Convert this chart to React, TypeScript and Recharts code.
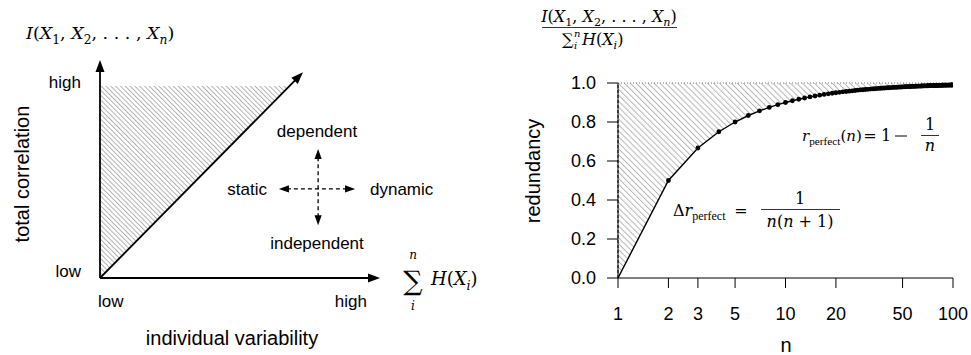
import React from 'react';
import { ComposedChart, Area, Line, XAxis, YAxis, ReferenceLine } from 'recharts';

const W = 971;
const H = 355;

// ---- Left panel: conceptual plane (arbitrary units) ----
const planeMax = { x: 10, y: 8 };
const horizontalAxis = [{ x: 0, y: 0 }, { x: 10, y: 0 }];
const verticalAxis = [{ x: 0, y: 0 }, { x: 0, y: 8 }];
const diagonal = [{ x: 0, y: 0 }, { x: 7.25, y: 7.55 }];
// lower edge of the shaded wedge (runs along the diagonal); its upper edge is wedgeTop
const wedgeEdge = [{ x: 0, y: 0 }, { x: 6.77, y: 7.05 }];
const wedgeTop = 7.05;
const staticDynamic = [{ x: 6.39, y: 3.27 }, { x: 9.11, y: 3.27 }];
const independentDependent = [{ x: 7.79, y: 1.94 }, { x: 7.79, y: 4.73 }];

// ---- Right panel: redundancy of a perfectly redundant system ----
const nValues = [
  1, 2, 3, 4, 5, 6, 7, 8, 9, 10, 11, 12, 13, 14, 15, 16, 17, 18, 19, 20,
  21, 22, 23, 24, 25, 26, 27, 28, 29, 30, 31, 32, 33, 34, 35, 36, 37, 38, 39, 40,
  41, 42, 43, 44, 45, 46, 47, 48, 49, 50, 51, 52, 53, 54, 55, 56, 57, 58, 59, 60,
  61, 62, 63, 64, 65, 66, 67, 68, 69, 70, 71, 72, 73, 74, 75, 76, 77, 78, 79, 80,
  81, 82, 83, 84, 85, 86, 87, 88, 89, 90, 91, 92, 93, 94, 95, 96, 97, 98, 99, 100,
];
const redundancy = [
  0, 0.5, 0.6667, 0.75, 0.8, 0.8333, 0.8571, 0.875, 0.8889, 0.9,
  0.9091, 0.9167, 0.9231, 0.9286, 0.9333, 0.9375, 0.9412, 0.9444, 0.9474, 0.95,
  0.9524, 0.9545, 0.9565, 0.9583, 0.96, 0.9615, 0.963, 0.9643, 0.9655, 0.9667,
  0.9677, 0.9688, 0.9697, 0.9706, 0.9714, 0.9722, 0.973, 0.9737, 0.9744, 0.975,
  0.9756, 0.9762, 0.9767, 0.9773, 0.9778, 0.9783, 0.9787, 0.9792, 0.9796, 0.98,
  0.9804, 0.9808, 0.9811, 0.9815, 0.9818, 0.9821, 0.9825, 0.9828, 0.9831, 0.9833,
  0.9836, 0.9839, 0.9841, 0.9844, 0.9846, 0.9848, 0.9851, 0.9853, 0.9855, 0.9857,
  0.9859, 0.9861, 0.9863, 0.9865, 0.9867, 0.9868, 0.987, 0.9872, 0.9873, 0.9875,
  0.9877, 0.9878, 0.988, 0.9881, 0.9882, 0.9884, 0.9885, 0.9886, 0.9888, 0.9889,
  0.989, 0.9891, 0.9892, 0.9894, 0.9895, 0.9896, 0.9897, 0.9898, 0.9899, 0.99,
];
const nTicks = [1, 2, 3, 5, 10, 20, 50, 100];
const redundancyTicks = [0, 0.2, 0.4, 0.6, 0.8, 1.0];

const curve = nValues.map((n, i) => ({ n, r: redundancy[i] }));

const SANS = "'Liberation Sans', Arial, Helvetica, sans-serif";
const SERIF = "'DejaVu Serif', 'Liberation Serif', serif";
const SERIF_NARROW = "'Liberation Serif', 'DejaVu Serif', serif";

type Part = [string, 'i' | 'r' | 'subr' | 'subi' | 'subw'];

function MathText({ x, y, size, anchor = 'start', parts }: { x: number; y: number; size: number; anchor?: 'start' | 'middle' | 'end'; parts: Part[] }) {
  let shift = 0;
  return (
    <text x={x} y={y} textAnchor={anchor} fontFamily={SERIF} fontSize={size} fill="#000">
      {parts.map(([t, kind], k) => {
        const sub = kind.startsWith('sub');
        const target = sub ? size * 0.26 : 0;
        const dy = target - shift;
        shift = target;
        return (
          <tspan
            key={k}
            dy={dy}
            fontStyle={kind.endsWith('i') ? 'italic' : 'normal'}
            fontFamily={kind === 'subw' ? SERIF_NARROW : undefined}
            fontSize={sub ? size * (kind === 'subw' ? 0.75 : 0.7) : size}
          >
            {t}
          </tspan>
        );
      })}
    </text>
  );
}

// Line with filled arrow head(s), used as a ReferenceLine shape
function arrow(head: number, half: number, width: number, dash?: string, both = false) {
  return (p: any) => {
    const { x1, y1, x2, y2 } = p;
    const dx = x2 - x1;
    const dy = y2 - y1;
    const len = Math.hypot(dx, dy) || 1;
    const ux = dx / len;
    const uy = dy / len;
    const tri = (tx: number, ty: number, sx: number, sy: number) => {
      const bx = tx - sx * head;
      const by = ty - sy * head;
      const px = -sy * half;
      const py = sx * half;
      return `${tx},${ty} ${bx + px},${by + py} ${bx - px},${by - py}`;
    };
    const sx0 = both ? x1 + ux * head * 0.8 : x1;
    const sy0 = both ? y1 + uy * head * 0.8 : y1;
    return (
      <g>
        <line x1={sx0} y1={sy0} x2={x2 - ux * head * 0.8} y2={y2 - uy * head * 0.8} stroke="#000" strokeWidth={width} strokeDasharray={dash} />
        <polygon points={tri(x2, y2, ux, uy)} fill="#000" />
        {both && <polygon points={tri(x1, y1, -ux, -uy)} fill="#000" />}
      </g>
    );
  };
}

const thinArrow = arrow(12, 4.5, 1.8);
const dashedArrow = arrow(10, 3.6, 1.3, '4 3', true);

function LeftPanel() {
  return (
    <ComposedChart width={W} height={H} data={wedgeEdge} margin={{ top: 60, left: 100, right: W - 380, bottom: 77 }} style={{ position: 'absolute', left: 0, top: 0 }}>
      <defs>
        <pattern id="hatch-left" patternUnits="userSpaceOnUse" width="3.4" height="3.4" patternTransform="rotate(-45)">
          <line x1="0.5" y1="0" x2="0.5" y2="3.4" stroke="#a0a0a0" strokeWidth="0.8" />
        </pattern>
      </defs>
      <XAxis dataKey="x" type="number" domain={[0, planeMax.x]} hide allowDataOverflow />
      <YAxis type="number" domain={[0, planeMax.y]} hide allowDataOverflow />
      <Area dataKey="y" type="linear" baseValue={wedgeTop} fill="url(#hatch-left)" fillOpacity={1} stroke="none" isAnimationActive={false} />
      <ReferenceLine segment={horizontalAxis} shape={thinArrow} />
      <ReferenceLine segment={verticalAxis} shape={thinArrow} />
      <ReferenceLine segment={diagonal} shape={thinArrow} />
      <ReferenceLine segment={staticDynamic} shape={dashedArrow} />
      <ReferenceLine segment={independentDependent} shape={dashedArrow} />

      <g fontFamily={SANS} fill="#000">
        <text x={81} y={88} fontSize={17} textAnchor="end">high</text>
        <text x={81} y={277} fontSize={17} textAnchor="end">low</text>
        <text x={98} y={307} fontSize={17}>low</text>
        <text x={367} y={307} fontSize={17} textAnchor="end">high</text>
        <text x={232} y={345} fontSize={20} textAnchor="middle">individual variability</text>
        <text x={29} y={174} fontSize={20} textAnchor="middle" transform="rotate(-90 29 174)">total correlation</text>
        <text x={317} y={137} fontSize={17} textAnchor="middle">dependent</text>
        <text x={317} y={249} fontSize={17} textAnchor="middle">independent</text>
        <text x={267} y={195} fontSize={17} textAnchor="end">static</text>
        <text x={370} y={195} fontSize={17}>dynamic</text>
      </g>

      <MathText x={26} y={39} size={17.5} parts={[['I', 'i'], ['(', 'r'], ['X', 'i'], ['1', 'subr'], [', ', 'r'], ['X', 'i'], ['2', 'subr'], [', . . . , ', 'r'], ['X', 'i'], ['n', 'subi'], [')', 'r']]} />

      <text x={413} y={290} fontFamily={SERIF} fontSize={27} textAnchor="middle">∑</text>
      <text x={413} y={259} fontFamily={SERIF} fontSize={12} fontStyle="italic" textAnchor="middle">n</text>
      <text x={413} y={310} fontFamily={SERIF} fontSize={12} fontStyle="italic" textAnchor="middle">i</text>
      <MathText x={431} y={285} size={18} parts={[['H', 'i'], ['(', 'r'], ['X', 'i'], ['i', 'subi'], [')', 'r']]} />
    </ComposedChart>
  );
}

function CurveDot(props: any) {
  const { cx, cy, payload, index } = props;
  if (payload.n < 2) return <g key={`d${index}`} />;
  return <circle key={`d${index}`} cx={cx} cy={cy} r={2.4} fill="#000" />;
}

function XTick(props: any) {
  const { x, y, payload } = props;
  return (
    <text x={x} y={y} dy="0.71em" textAnchor="middle" fontSize={18} fill="#000" fontFamily="Liberation Sans">
      {payload.value}
    </text>
  );
}

function YTick(props: any) {
  const { x, y, payload } = props;
  return (
    <text x={x} y={y} dy="0.36em" textAnchor="end" fontSize={18} fill="#000" fontFamily="Liberation Sans">
      {Number(payload.value).toFixed(1)}
    </text>
  );
}

function RightPanel() {
  return (
    <ComposedChart width={W} height={H} data={curve} margin={{ top: 83, left: 558, right: 18, bottom: 37 }} style={{ position: 'absolute', left: 0, top: 0 }}>
      <defs>
        <pattern id="hatch-right" patternUnits="userSpaceOnUse" width="4.2" height="4.2" patternTransform="rotate(-45)">
          <line x1="0.5" y1="0" x2="0.5" y2="4.2" stroke="#b0b0b0" strokeWidth="0.9" />
        </pattern>
      </defs>
      <XAxis
        dataKey="n"
        type="number"
        scale="log"
        domain={[1, 100]}
        ticks={nTicks}
        allowDataOverflow
        height={40}
        tickSize={10}
        tickMargin={19}
        stroke="#000"
        tick={XTick}
        interval={0}
      />
      <YAxis
        type="number"
        domain={[0, 1]}
        ticks={redundancyTicks}
        width={60}
        tickSize={11}
        tickMargin={11}
        stroke="#000"
        tick={YTick}
        interval={0}
      />
      <Area dataKey="r" type="linear" baseValue={1} fill="url(#hatch-right)" fillOpacity={1} stroke="none" isAnimationActive={false} />
      <ReferenceLine y={1} stroke="#777" strokeDasharray="1 2" strokeWidth={1} />
      <ReferenceLine x={1} stroke="#000" strokeDasharray="3 2" strokeWidth={1} />
      <Line dataKey="r" type="linear" stroke="#000" strokeWidth={1.4} dot={CurveDot} isAnimationActive={false} />

      <g fontFamily={SANS} fill="#000">
        <text x={540} y={171} fontSize={20} textAnchor="middle" transform="rotate(-90 540 171)">redundancy</text>
        <text x={786} y={352} fontSize={20} textAnchor="middle">n</text>
      </g>

      {/* axis title: normalised total correlation */}
      <MathText x={609} y={22} size={16} anchor="middle" parts={[['I', 'i'], ['(', 'r'], ['X', 'i'], ['1', 'subr'], [', ', 'r'], ['X', 'i'], ['2', 'subr'], [', . . . , ', 'r'], ['X', 'i'], ['n', 'subi'], [')', 'r']]} />
      <line x1={542} x2={677} y1={27.5} y2={27.5} stroke="#000" strokeWidth={0.8} />
      <text x={562} y={45} fontFamily={SERIF} fontSize={16}>∑</text>
      <text x={574} y={37} fontFamily={SERIF} fontSize={10} fontStyle="italic">n</text>
      <text x={574} y={49} fontFamily={SERIF} fontSize={10} fontStyle="italic">i</text>
      <MathText x={582} y={45} size={16} parts={[['H', 'i'], ['(', 'r'], ['X', 'i'], ['i', 'subi'], [')', 'r']]} />

      {/* r_perfect(n) = 1 - 1/n */}
      <MathText x={802} y={141} size={15} parts={[['r', 'i'], ['perfect', 'subw'], ['(', 'r'], ['n', 'i'], [')', 'r']]} />
      <text x={870} y={141} fontFamily={SERIF} fontSize={16} textAnchor="middle">=</text>
      <text x={886} y={141} fontFamily={SERIF} fontSize={16} textAnchor="middle">1</text>
      <line x1={895} x2={907} y1={136} y2={136} stroke="#000" strokeWidth={1} />
      <text x={930} y={130} fontFamily={SERIF} fontSize={16} textAnchor="middle">1</text>
      <line x1={921} x2={939} y1={135.5} y2={135.5} stroke="#000" strokeWidth={0.8} />
      <text x={930} y={151} fontFamily={SERIF} fontSize={16} fontStyle="italic" textAnchor="middle">n</text>

      {/* Δr_perfect = 1 / (n(n+1)) */}
      <MathText x={673} y={216} size={16} parts={[['Δ', 'r'], ['r', 'i'], ['perfect', 'subw']]} />
      <text x={741} y={216} fontFamily={SERIF} fontSize={16} textAnchor="middle">=</text>
      <text x={800} y={204} fontFamily={SERIF} fontSize={16} textAnchor="middle">1</text>
      <line x1={761} x2={840} y1={209.5} y2={209.5} stroke="#000" strokeWidth={0.8} />
      <MathText x={800} y={227} size={16} anchor="middle" parts={[['n', 'i'], ['(', 'r'], ['n', 'i'], [' + 1)', 'r']]} />
    </ComposedChart>
  );
}

export default function App() {
  return (
    <div style={{ position: 'absolute', left: 0, top: 0, width: W, height: H, background: '#fff', fontFamily: SANS }}>
      <LeftPanel />
      <RightPanel />
    </div>
  );
}
